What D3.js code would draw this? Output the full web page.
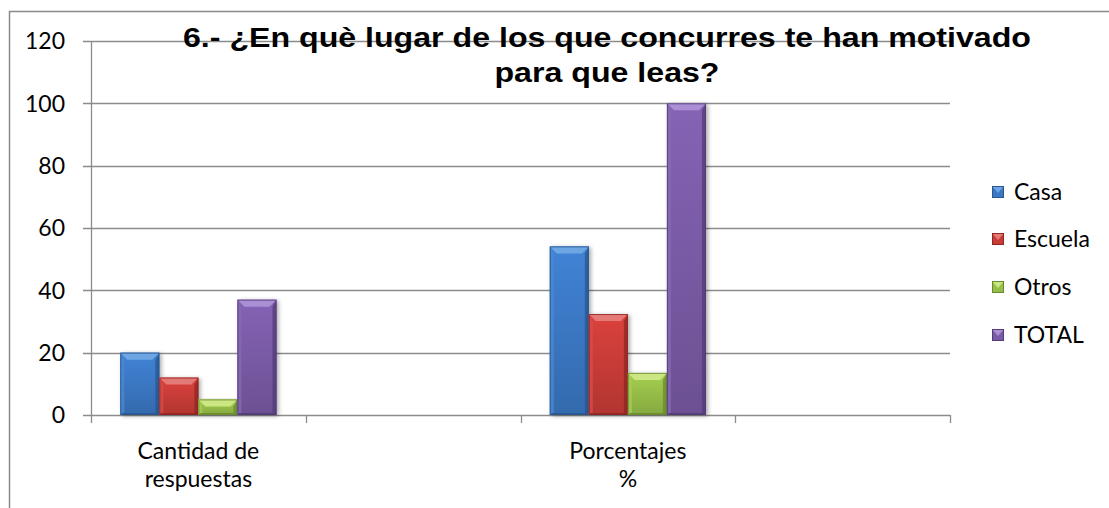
<!DOCTYPE html>
<html>
<head>
<meta charset="utf-8">
<script src="https://cdn.jsdelivr.net/npm/d3@7/dist/d3.min.js"></script>
<style>
  html, body { margin: 0; padding: 0; background: #fff; }
  svg { display: block; }
</style>
</head>
<body>
<svg id="chart" width="1109" height="508"></svg>
<script>
// ---- data ----
const title = ["6.- ¿En què lugar de los que concurres te han motivado", "para que leas?"];
const categories = ["Cantidad de\nrespuestas", "", "Porcentajes\n%", ""];
const seriesNames = ["Casa", "Escuela", "Otros", "TOTAL"];
const casa    = [20, null, 54.1, null];
const escuela = [12, null, 32.4, null];
const otros   = [5,  null, 13.5, null];
const total   = [37, null, 100,  null];
const yTicks  = [0, 20, 40, 60, 80, 100, 120];

const seriesValues = [casa, escuela, otros, total];
const palette = [
  {body: "#3b78c4", light: "#6ea6e4", dark: "#28568f", side: "#4a88d2"},
  {body: "#c83c38", light: "#e47a76", dark: "#8f2623", side: "#d44c48"},
  {body: "#97be48", light: "#cbe783", dark: "#6a8a2c", side: "#a6ca58"},
  {body: "#7a5ba6", light: "#ab8fd4", dark: "#533b78", side: "#8669b3"}
];

const svg = d3.select("#chart");
const defs = svg.append("defs");

const m = {left: 91, right: 950, top: 41, bottom: 415};
const x = d3.scaleBand().domain(d3.range(categories.length)).range([m.left, m.right]).padding(0);
const y = d3.scaleLinear().domain([0, 120]).range([m.bottom, m.top]);

// outer border
svg.append("rect").attr("x", 9.5).attr("y", 11.5).attr("width", 1200).attr("height", 600)
  .attr("fill", "none").attr("stroke", "#8a8a8a").attr("stroke-width", 1.5);

const axisColor = "#8c8c8c";
const fontSans = "Lato, 'Open Sans', sans-serif";
const fs = 23;

// gridlines
svg.append("g").selectAll("line").data(yTicks).join("line")
  .attr("x1", m.left - 8).attr("x2", m.right)
  .attr("y1", d => Math.round(y(d)) + 0.5).attr("y2", d => Math.round(y(d)) + 0.5)
  .attr("stroke", axisColor).attr("stroke-width", 1.3);

// y axis line
svg.append("line").attr("x1", m.left + 0.5).attr("x2", m.left + 0.5)
  .attr("y1", y(120)).attr("y2", y(0))
  .attr("stroke", axisColor).attr("stroke-width", 1.3);

// y tick labels
svg.append("g").selectAll("text").data(yTicks).join("text")
  .attr("x", 65).attr("y", d => y(d)).attr("dy", "0.36em")
  .attr("text-anchor", "end").attr("font-family", fontSans).attr("font-size", fs)
  .attr("fill", "#000").text(d => d);

// x axis ticks at band boundaries
const bounds = d3.range(categories.length + 1).map(i => i < categories.length ? x(i) : m.right);
svg.append("g").selectAll("line").data(bounds).join("line")
  .attr("x1", d => Math.round(d) + 0.5).attr("x2", d => Math.round(d) + 0.5)
  .attr("y1", y(0)).attr("y2", y(0) + 8)
  .attr("stroke", axisColor).attr("stroke-width", 1.3);

// category labels
const catG = svg.append("g");
categories.forEach((c, i) => {
  if (!c) return;
  const lines = c.split("\n");
  const t = catG.append("text").attr("text-anchor", "middle")
    .attr("font-family", fontSans).attr("font-size", fs).attr("fill", "#000");
  lines.forEach((ln, j) => {
    t.append("tspan").attr("x", x(i) + x.bandwidth() / 2).attr("y", 459 + j * 28).text(ln);
  });
});

// shadow filter
const f = defs.append("filter").attr("id", "shadow").attr("x", "-30%").attr("y", "-10%").attr("width", "160%").attr("height", "130%");
f.append("feGaussianBlur").attr("stdDeviation", 2.2);

// gradients per series
palette.forEach((p, s) => {
  const g = defs.append("linearGradient").attr("id", "body" + s).attr("x1", 0).attr("x2", 0).attr("y1", 0).attr("y2", 1);
  g.append("stop").attr("offset", "0%").attr("stop-color", d3.color(p.body).brighter(0.25));
  g.append("stop").attr("offset", "100%").attr("stop-color", d3.color(p.body).darker(0.35));
});

// bars
const barW = x.bandwidth() / 5.5;
const barsG = svg.append("g");
seriesValues.forEach((vals, s) => {
  const p = palette[s];
  vals.forEach((v, i) => {
    if (v == null) return;
    const bx = x(i) + 0.75 * barW + s * barW;
    const by = y(v);
    const h = y(0) - by;
    const w = barW;
    const b = Math.min(7, h / 2);
    const g = barsG.append("g");
    g.append("rect").attr("x", bx + 2).attr("y", by + 1).attr("width", w).attr("height", h)
      .attr("fill", "rgba(0,0,0,0.35)").attr("filter", "url(#shadow)");
    g.append("rect").attr("x", bx).attr("y", by).attr("width", w).attr("height", h)
      .attr("fill", `url(#body${s})`);
    g.append("polygon").attr("points", [[bx, by], [bx + 4, by + b], [bx + 4, by + h - 2], [bx, by + h]].join(" "))
      .attr("fill", p.side).attr("opacity", 0.8);
    g.append("polygon").attr("points", [[bx + w, by], [bx + w - 4, by + b], [bx + w - 4, by + h - 2], [bx + w, by + h]].join(" "))
      .attr("fill", p.dark).attr("opacity", 0.75);
    g.append("polygon").attr("points", [[bx, by], [bx + w, by], [bx + w - b, by + b], [bx + b, by + b]].join(" "))
      .attr("fill", p.light);
    g.append("polygon").attr("points", [[bx, by + h], [bx + w, by + h], [bx + w - 2, by + h - 2], [bx + 2, by + h - 2]].join(" "))
      .attr("fill", p.dark).attr("opacity", 0.8);
    g.append("rect").attr("x", bx + 0.5).attr("y", by + 0.5).attr("width", w - 1).attr("height", h - 1)
      .attr("fill", "none").attr("stroke", p.dark).attr("stroke-width", 1).attr("opacity", 0.8);
  });
});

// title (reference glyphs are horizontally stretched; match widths)
const titleWidths = [848, 225];
title.forEach((ln, j) => {
  svg.append("text").attr("text-anchor", "middle")
    .attr("font-family", "'Liberation Sans', Arial, sans-serif").attr("font-weight", "bold")
    .attr("font-size", 28).attr("fill", "#000")
    .attr("x", 607).attr("y", 47 + j * 35)
    .attr("textLength", titleWidths[j]).attr("lengthAdjust", "spacingAndGlyphs")
    .text(ln);
});

// legend
const legY = [192, 239, 287, 335];
const leg = svg.append("g");
seriesNames.forEach((n, s) => {
  const p = palette[s];
  const gy = legY[s];
  const lx = 992, sz = 12;
  leg.append("rect").attr("x", lx).attr("y", gy - sz / 2).attr("width", sz).attr("height", sz).attr("fill", p.body);
  leg.append("polygon").attr("points", [[lx, gy - sz / 2], [lx + sz, gy - sz / 2], [lx + sz / 2, gy + 1]].join(" "))
    .attr("fill", p.light);
  leg.append("rect").attr("x", lx + 0.5).attr("y", gy - sz / 2 + 0.5).attr("width", sz - 1).attr("height", sz - 1)
    .attr("fill", "none").attr("stroke", p.dark).attr("stroke-width", 1);
  leg.append("text").attr("x", 1014).attr("y", gy).attr("dy", "0.36em")
    .attr("font-family", fontSans).attr("font-size", fs).attr("fill", "#000").text(n);
});
</script>
</body>
</html>
